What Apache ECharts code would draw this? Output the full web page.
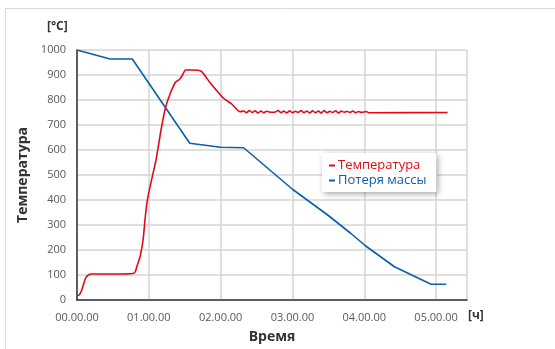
<!DOCTYPE html>
<html>
<head>
<meta charset="utf-8">
<script src="https://cdn.jsdelivr.net/npm/echarts@6/dist/echarts.min.js"></script>
<style>
  html, body { margin: 0; padding: 0; background: #fff; }
  #chart { width: 555px; height: 349px; }
</style>
</head>
<body>
<div id="chart"></div>
<script>
// Time in hours, temperature in °C
const tempTime = [0, 0.03, 0.06, 0.09, 0.12, 0.16, 0.2, 0.5, 0.78, 0.81, 0.84, 0.88, 0.92, 0.95, 0.98, 1.03, 1.1, 1.17, 1.23, 1.3, 1.37, 1.43, 1.47, 1.51, 1.6, 1.73, 1.85, 2.04, 2.15, 2.27,
  2.32, 2.36, 2.4, 2.44, 2.48, 2.52, 2.56, 2.6, 2.64, 2.68, 2.72, 2.76, 2.8, 2.84, 2.88, 2.92, 2.96, 3.0, 3.04, 3.08, 3.12, 3.16, 3.2, 3.24, 3.28, 3.32, 3.36, 3.4, 3.44, 3.48, 3.52, 3.56, 3.6, 3.64, 3.68, 3.72, 3.76, 3.8, 3.84, 3.88, 3.92, 3.96, 4.0, 4.03, 4.06, 5.16];
const tempValues = [18, 20, 35, 62, 88, 100, 104, 104, 106, 112, 140, 175, 240, 330, 400, 470, 560, 680, 767, 827, 871, 883, 900, 920, 920, 915, 870, 807, 785, 753,
  756, 749, 758, 750, 757, 748, 756, 749, 755, 752, 751, 752, 758, 749, 756, 748, 757, 749, 755, 750, 758, 749, 756, 748, 757, 749, 756, 748, 758, 749, 755, 750, 757, 748, 756, 751, 755, 750, 756, 749, 754, 750, 752, 754, 749, 750];

// Mass loss curve
const massTime = [0, 0.46, 0.77, 1.57, 2.0, 2.32, 3.0, 3.49, 3.81, 4.02, 4.42, 4.93, 5.14];
const massValues = [1000, 964, 964, 627, 611, 609, 443, 340, 267, 216, 133, 63, 63];

const xTicks = ['00.00.00', '01.00.00', '02.00.00', '03.00.00', '04.00.00', '05.00.00'];
const yTicks = [0, 100, 200, 300, 400, 500, 600, 700, 800, 900, 1000];

const seriesNames = ['Температура', 'Потеря массы'];
const RED = '#e30a17';
const BLUE = '#0e5ea8';
const FONT = 'Open Sans';

const zip = (a, b) => a.map((v, i) => [v, b[i]]);

const chart = echarts.init(document.getElementById('chart'), null, { renderer: 'canvas' });
chart.setOption({
  animation: false,
  textStyle: { fontFamily: FONT },
  grid: { left: 77, top: 50, right: 88, bottom: 49 },
  graphic: [
    { type: 'rect', shape: { x: 5.5, y: 8.5, width: 600, height: 400 }, style: { fill: 'none', stroke: '#d9d9d9', lineWidth: 1 }, z: -1 },
    { type: 'text', left: 47, top: 21, style: { text: '[°C]', font: 'bold 12px "Open Sans"', fill: '#333' } },
    { type: 'text', left: 468, top: 310, style: { text: '[ч]', font: 'bold 12px "Open Sans"', fill: '#333' } }
  ],
  legend: {
    orient: 'vertical',
    left: 322,
    top: 153,
    padding: [6, 10, 5, 7],
    itemGap: 2,
    itemWidth: 6,
    itemHeight: 2,
    icon: 'rect',
    backgroundColor: '#fff',
    shadowBlur: 6,
    shadowColor: 'rgba(0,0,0,0.35)',
    shadowOffsetX: 2,
    shadowOffsetY: 2,
    textStyle: { fontSize: 13, fontFamily: FONT, padding: [0, 0, 0, -2] },
    data: [
      { name: seriesNames[0], textStyle: { color: RED } },
      { name: seriesNames[1], textStyle: { color: BLUE } }
    ]
  },
  xAxis: {
    type: 'value',
    min: 0,
    max: 5.43,
    interval: 1,
    name: 'Время',
    nameLocation: 'middle',
    nameGap: 30,
    nameTextStyle: { fontSize: 14, fontWeight: 'bold', color: '#333', fontFamily: FONT },
    axisLine: { lineStyle: { color: '#333', width: 1.5 } },
    axisTick: { show: false },
    axisLabel: {
      margin: 12,
      fontSize: 11,
      color: '#595959',
      formatter: v => (Number.isInteger(v) ? xTicks[v] : '')
    },
    splitLine: { show: true, lineStyle: { color: '#d4d4d4', width: 1.5 } }
  },
  yAxis: {
    type: 'value',
    min: 0,
    max: 1000,
    interval: 100,
    name: 'Температура',
    nameLocation: 'middle',
    nameGap: 40,
    nameRotate: 90,
    nameTextStyle: { fontSize: 14, fontWeight: 'bold', color: '#333', fontFamily: FONT },
    axisLine: { show: true, lineStyle: { color: '#333', width: 1.5 } },
    axisTick: { show: false },
    axisLabel: {
      margin: 11,
      fontSize: 11,
      color: '#595959',
      formatter: v => (yTicks.includes(v) ? String(v) : '')
    },
    splitLine: { show: true, lineStyle: { color: '#d4d4d4', width: 1.5 } }
  },
  series: [
    {
      name: seriesNames[0],
      type: 'line',
      data: zip(tempTime, tempValues),
      showSymbol: false,
      smooth: 0.2,
      color: RED,
      lineStyle: { color: RED, width: 1.6 },
      z: 3
    },
    {
      name: seriesNames[1],
      type: 'line',
      data: zip(massTime, massValues),
      showSymbol: false,
      color: BLUE,
      lineStyle: { color: BLUE, width: 1.6 },
      z: 2
    }
  ]
});
</script>
</body>
</html>
